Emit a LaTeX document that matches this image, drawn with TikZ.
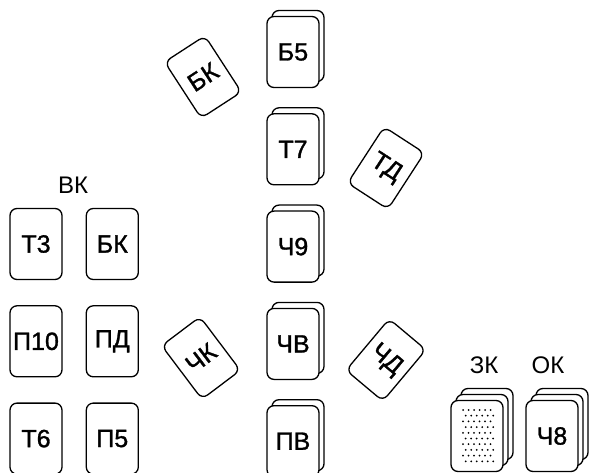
\documentclass[tikz,border=0pt]{standalone}
\usepackage{fontspec}
\setmainfont{Liberation Sans}
\newfontfamily\cardface{Liberation Sans}[FakeBold=1.2]
\usetikzlibrary{positioning,shadows}
\newcommand{\cardtext}{\cardface\fontsize{25}{25}\selectfont}

\tikzset{
	card/.style={draw, line width=1.3pt, rounded corners=7pt, fill=white,
		minimum width=52pt, minimum height=71pt, inner sep=0pt, font=\cardtext},
	tilted/.style={card, minimum width=48pt, minimum height=67pt, rotate=#1},
	pile/.style={card, copy shadow={shadow xshift=5pt, shadow yshift=6pt, line width=1.3pt}},
	deck/.style={card,
		copy shadow={shadow xshift=10pt, shadow yshift=12pt, line width=1.3pt},
		copy shadow={shadow xshift=5pt, shadow yshift=6pt, line width=1.3pt}},
	heading/.style={font=\fontsize{24}{24}\selectfont},
}

\begin{document}
\begin{tikzpicture}[x=1pt, y=1pt, node distance=25pt]
	\useasboundingbox (0,0) rectangle (589,-473);

	% middle column of piles
	\node[pile] (b5) at (293,-52) {Б5};
	\node[pile, below=of b5] (t7) {Т7};
	\node[pile, below=of t7] (ch9) {Ч9};
	\node[pile, below=of ch9] (chv) {ЧВ};
	\node[pile, below=of chv] (pv) {ПВ};

	% cards lying at an angle
	\node[tilted=33] (bk2) at (203,-77) {БК};
	\node[tilted=-33] (td) at (386,-168) {ТД};
	\node[tilted=37] (chk) at (201,-358) {ЧК};
	\node[tilted=-40] (chd) at (386,-360) {ЧД};

	% left block
	\node[heading] (vk) at (73,-185) {ВК};
	\node[card] (t3) at (36,-244) {Т3};
	\node[card, right=23pt of t3] (bk) {БК};
	\node[card, below=of t3] (p10) {П10};
	\node[card, below=of bk] (pd) {ПД};
	\node[card, below=of p10] (t6) {Т6};
	\node[card, below=of pd] (p5) {П5};

	% closed and open decks
	\node[heading] (zkl) at (484,-365) {ЗК};
	\node[heading] (okl) at (548,-365) {ОК};
	\node[deck] (zk) at (477,-436) {};
	\node[deck] (ok) at (552,-436) {Ч8};
	\foreach \r in {0,...,9}
		\foreach \c in {0,...,5}
			\fill[shift={(zk.center)}] ({-14+5.5*\c+2.7*mod(\r,2)}, {26-5.7*\r}) circle (1);
\end{tikzpicture}
\end{document}
